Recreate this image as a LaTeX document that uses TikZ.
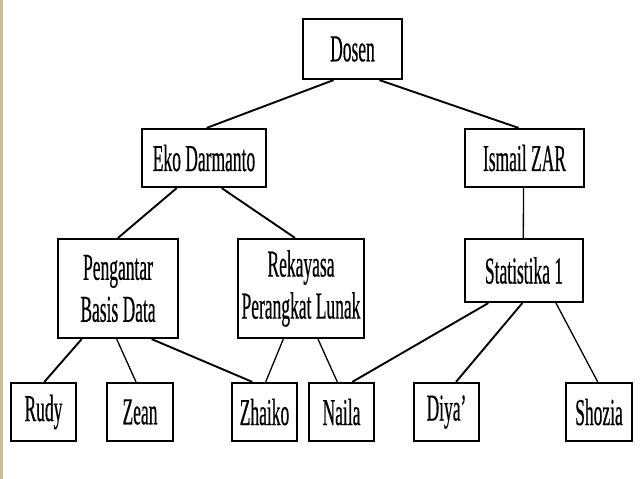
\documentclass[tikz,border=0pt]{standalone}
\usepackage{fontspec}
\setmainfont{Liberation Serif}[FakeStretch=0.46,FakeBold=0.4]
\begin{document}
\begin{tikzpicture}[x=1pt,y=-1pt,
  box/.style={draw,line width=2.2pt,inner sep=0pt,align=center,font=\fontsize{38}{42}\selectfont},
  link/.style={line width=1.9pt},
  thin link/.style={line width=1.3pt}]
\useasboundingbox (0,0) rectangle (640,479);
\fill[fill={rgb,255:red,205;green,190;blue,145}] (0,0) rectangle (3,479);
% top
\node[box,minimum width=99pt,minimum height=60pt] (dosen) at (352.5,49) {Dosen};
\node[box,minimum width=124pt,minimum height=58pt] (eko) at (204,158) {Eko Darmanto};
\node[box,minimum width=119pt,minimum height=58pt] (ismail) at (524.5,158) {Ismail ZAR};
% middle
\node[box,minimum width=120pt,minimum height=99pt] (pbd) at (118,288.5) {Pengantar\\Basis Data};
\node[box,minimum width=126pt,minimum height=99pt] (rpl) at (301,288.5) {Rekayasa\\Perangkat Lunak};
\node[box,minimum width=118pt,minimum height=63pt] (stat) at (524,270.5) {Statistika 1};
% bottom
\node[box,minimum width=65pt,minimum height=58pt] (rudy) at (43.5,412) {Rudy};
\node[box,minimum width=66pt,minimum height=58pt] (zean) at (140,412) {Zean};
\node[box,minimum width=65pt,minimum height=58pt] (zhaiko) at (264.5,412) {Zhaiko};
\node[box,minimum width=65pt,minimum height=58pt] (naila) at (341.5,412) {Naila};
\node[box,minimum width=65pt,minimum height=58pt] (diya) at (446.5,412) {Diya'};
\node[box,minimum width=66pt,minimum height=58pt] (shozia) at (599,412) {Shozia};
% connectors
\draw[link] ([xshift=-19pt]dosen.south) -- ([xshift=2.7pt]eko.north);
\draw[link] ([xshift=27pt]dosen.south) -- ([xshift=-6pt]ismail.north);
\draw[thin link] ([xshift=-1pt]ismail.south) -- ([xshift=-0.7pt]stat.north);
\draw[link] ([xshift=-27.3pt]eko.south) -- (pbd.north);
\draw[link] ([xshift=17.7pt]eko.south) -- ([xshift=-6pt]rpl.north);
\draw[link] ([xshift=-36.3pt]pbd.south) -- ([xshift=0.8pt]rudy.north);
\draw[thin link] ([xshift=-1.3pt]pbd.south) -- ([xshift=-4pt]zean.north);
\draw[link] ([xshift=33.7pt]pbd.south) -- ([xshift=-12.2pt]zhaiko.north);
\draw[thin link] ([xshift=-17.7pt]rpl.south) -- ([xshift=1.2pt]zhaiko.north);
\draw[thin link] ([xshift=17pt]rpl.south) -- ([xshift=-4.2pt]naila.north);
\draw[link] ([xshift=-35.7pt]stat.south) -- ([xshift=10.8pt]naila.north);
\draw[link] ([xshift=-1.7pt]stat.south) -- ([xshift=9.5pt]diya.north);
\draw[thin link] ([xshift=32pt]stat.south) -- ([xshift=-1.3pt]shozia.north);
\end{tikzpicture}
\end{document}
